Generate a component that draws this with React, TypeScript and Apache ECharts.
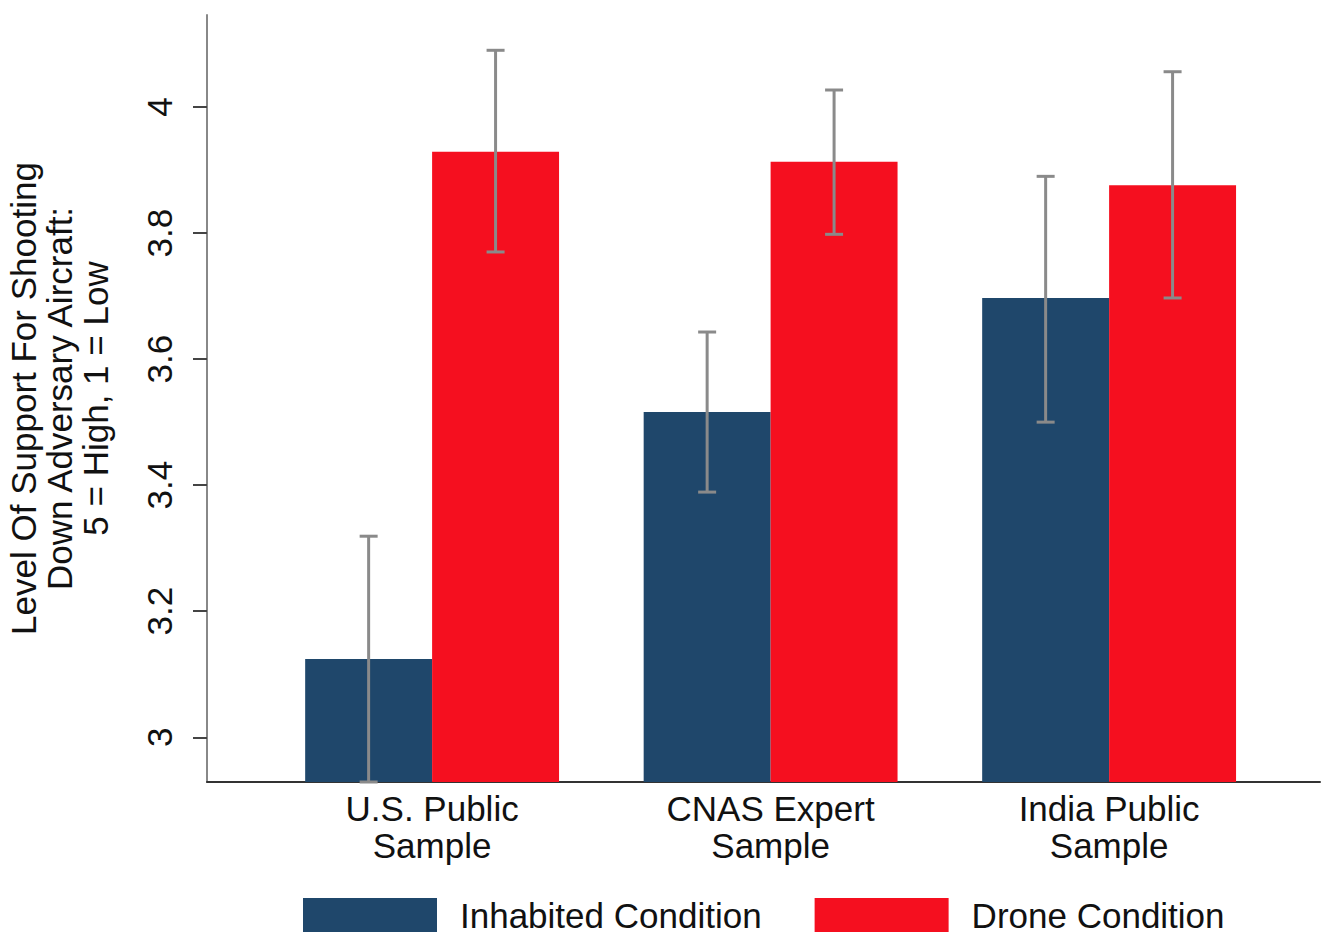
import React, { useEffect, useRef } from "react";
import * as echarts from "echarts";

const categories = ["U.S. Public\nSample", "CNAS Expert\nSample", "India Public\nSample"];
const seriesNames = ["Inhabited Condition", "Drone Condition"];
const inhabitedMeans = [3.124, 3.516, 3.697];
const inhabitedLow = [2.929, 3.389, 3.5];
const inhabitedHigh = [3.319, 3.643, 3.89];
const droneMeans = [3.929, 3.913, 3.876];
const droneLow = [3.77, 3.798, 3.697];
const droneHigh = [4.09, 4.027, 4.056];
const yTicks = [3, 3.2, 3.4, 3.6, 3.8, 4];
const yTickLabels = ["3", "3.2", "3.4", "3.6", "3.8", "4"];

const Y_MIN = 2.929;
const Y_MAX = 4.146;
const BLUE = "#1f476b";
const RED = "#f50f1f";
const FONT = "Liberation Sans, Arial, sans-serif";
const FS = 35;

export default function App() {
  const ref = useRef<HTMLDivElement>(null);
  useEffect(() => {
    document.body.style.margin = "0";
    const chart = echarts.init(ref.current!, null, { renderer: "svg" });
    const barRender = (side: number, color: string) => (params: any, api: any) => {
      const x = api.value(0);
      const y = api.value(1);
      const top = api.coord([x, y]);
      const base = api.coord([x, Y_MIN]);
      const w = api.size([1, 0])[0] * 0.375;
      const x0 = side === 0 ? top[0] - w : top[0];
      return {
        type: "rect",
        shape: { x: x0, y: top[1], width: w, height: base[1] - top[1] },
        style: { fill: color },
      };
    };
    const errRender = (params: any, api: any) => {
      const x = api.value(0);
      const lo = api.value(1);
      const hi = api.value(2);
      const side = api.value(3);
      const w = api.size([1, 0])[0] * 0.375;
      const pLo = api.coord([x, lo]);
      const pHi = api.coord([x, hi]);
      const cx = pLo[0] + (side === 0 ? -w / 2 : w / 2);
      const style = { stroke: "#8a8a8a", lineWidth: 3 };
      const cap = 9;
      return {
        type: "group",
        children: [
          { type: "line", shape: { x1: cx, y1: pLo[1], x2: cx, y2: pHi[1] }, style },
          { type: "line", shape: { x1: cx - cap, y1: pHi[1], x2: cx + cap, y2: pHi[1] }, style },
          { type: "line", shape: { x1: cx - cap, y1: pLo[1], x2: cx + cap, y2: pLo[1] }, style },
        ],
      };
    };
    const errData = [
      ...inhabitedLow.map((lo, i) => [i + 1, lo, inhabitedHigh[i], 0]),
      ...droneLow.map((lo, i) => [i + 1, lo, droneHigh[i], 1]),
    ];
    chart.setOption({
      animation: false,
      backgroundColor: "#ffffff",
      textStyle: { fontFamily: FONT },
      grid: { left: 207, right: 2, top: 15, bottom: 150, containLabel: false, outerBoundsMode: "none" },
      legend: {
        left: 298,
        top: 893,
        padding: 5,
        itemWidth: 134,
        itemHeight: 35,
        itemGap: 53,
        icon: "rect",
        data: seriesNames,
        textStyle: { fontSize: FS, color: "#111", fontFamily: FONT, padding: [0, 0, 0, 18] },
      },
      xAxis: {
        type: "value",
        min: 0.335,
        max: 3.623,
        splitLine: { show: false },
        axisTick: { show: false },
        axisLine: { show: true, lineStyle: { color: "#333", width: 2 } },
        axisLabel: {
          customValues: [1, 2, 3],
          formatter: (v: number) => categories[Math.round(v) - 1] ?? "",
          fontSize: FS,
          lineHeight: 37,
          color: "#111",
          fontFamily: FONT,
          margin: 8,
        },
      },
      yAxis: {
        type: "value",
        min: Y_MIN,
        max: Y_MAX,
        splitLine: { show: false },
        axisLine: { show: true, lineStyle: { color: "#888", width: 2 } },
        axisTick: { show: true, customValues: yTicks, length: 14, lineStyle: { color: "#444", width: 2 } },
        axisLabel: {
          customValues: yTicks,
          formatter: (v: number) => {
            const i = yTicks.findIndex((t) => Math.abs(t - v) < 1e-6);
            return i >= 0 ? yTickLabels[i] : "";
          },
          rotate: 90,
          fontSize: FS,
          color: "#111",
          fontFamily: FONT,
          margin: 30,
        },
        name: "Level Of Support For Shooting\nDown Adversary Aircraft:\n5 = High, 1 = Low",
        nameLocation: "middle",
        nameRotate: 90,
        nameGap: 94,
        nameTextStyle: { fontSize: FS, lineHeight: 36, color: "#111", fontFamily: FONT },
      },
      series: [
        {
          name: seriesNames[0],
          type: "custom",
          itemStyle: { color: BLUE },
          renderItem: barRender(0, BLUE),
          data: inhabitedMeans.map((v, i) => [i + 1, v]),
          encode: { x: 0, y: 1 },
          z: 1,
        },
        {
          name: seriesNames[1],
          type: "custom",
          itemStyle: { color: RED },
          renderItem: barRender(1, RED),
          data: droneMeans.map((v, i) => [i + 1, v]),
          encode: { x: 0, y: 1 },
          z: 1,
        },
        {
          name: "errors",
          type: "custom",
          renderItem: errRender,
          data: errData,
          encode: { x: 0, y: [1, 2] },
          z: 3,
          clip: false,
        },
      ],
    });
    return () => chart.dispose();
  }, []);
  return <div ref={ref} style={{ width: 1322, height: 932 }} />;
}
